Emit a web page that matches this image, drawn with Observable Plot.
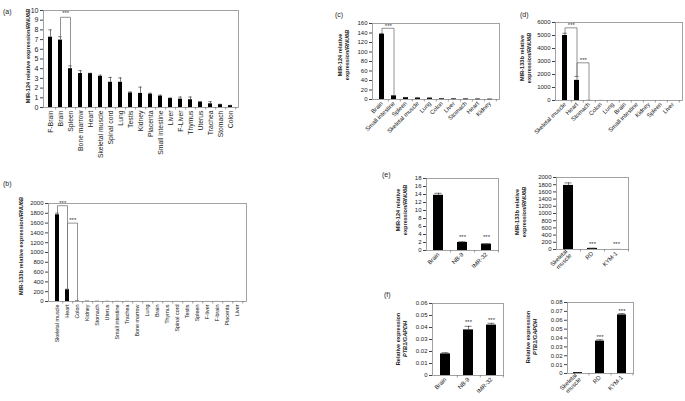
<!DOCTYPE html>
<html><head><meta charset="utf-8">
<script src="https://cdn.jsdelivr.net/npm/d3@7"></script>
<script src="https://cdn.jsdelivr.net/npm/@observablehq/plot@0.6"></script>
<style>
body{margin:0;background:#fff}
#fig{position:relative;width:685px;height:401px;overflow:hidden;font-family:"Liberation Sans",Arial,sans-serif;color:#222;background:#fff}
.pl{position:absolute;font-size:7px;line-height:8px}
.yl{position:absolute;font-weight:bold;white-space:nowrap;text-align:center;font-size:5.6px;line-height:7px;transform:translate(-50%,-50%) rotate(-90deg)}
#fig svg{position:absolute;overflow:visible;background:transparent}
</style></head><body><div id="fig"></div><script>
// ---- data ----
const aCats = ["F-Brain","Brain","Spleen","Bone marrow","Heart","Skeletal muscle","Spinal cord","Lung","Testis","Kidney","Placenta","Small intestine","Liver","F-Liver","Thymus","Uterus","Trachea","Stomach","Colon"];
const aVals = [7.25,6.95,4.0,3.5,3.5,3.2,2.6,2.6,1.5,1.45,1.37,1.17,0.93,0.86,0.8,0.55,0.38,0.3,0.2];
const aErr  = [0.75,0.35,0.3,0.3,0.03,0.13,0.5,0.45,0.1,0.65,0.1,0.1,0.05,0.22,0.28,0.05,0.22,0.03,0.02];
const aTicks = [0,1,2,3,4,5,6,7,8,9,10];
const aBracket = [["Brain",7.35],["Brain",9.3],["Spleen",9.3],["Spleen",4.35]];
const aStars = [["Brain",9.75]];

const bCats = ["Skeletal muscle","Heart","Colon","Kidney","Stomach","Uterus","Small intestine","Trachea","Bone marrow","Lung","Brain","Thymus","Spinal cord","Testis","Spleen","F-liver","F-brain","Placenta","Liver"];
const bVals = [1770,240,8,6,4,3,2,2,1,1,1,1,1,1,1,1,1,1,1];
const bErr  = [35,12,0,0,0,0,0,0,0,0,0,0,0,0,0,0,0,0,0];
const bTicks = [0,200,400,600,800,1000,1200,1400,1600,1800,2000];
const bBracket1 = [["Skeletal muscle",1810],["Skeletal muscle",1955],["Heart",1955],["Heart",255]];
const bBracket2 = [["Heart",260],["Heart",1600],["Colon",1600],["Colon",10]];
const bStars = [["Skeletal muscle",2010],["Heart",1670]];

const cCats = ["Brain","Small intestine","Spleen","Skeletal muscle","Lung","Colon","Liver","Stomach","Heart","Kidney"];
const cVals = [137,7.5,4,3,2.8,1.5,1.2,1,0.8,0.5];
const cErr  = [2,0.8,0.3,0.3,0.3,0.2,0.1,0.1,0.1,0.1];
const cTicks = [0,20,40,60,80,100,120,140,160];
const cBracket = [["Brain",140],["Brain",150],["Small intestine",150],["Small intestine",10]];
const cStars = [["Brain",155]];

const dCats = ["Skeletal muscle","Heart","Stomach","Colon","Lung","Brain","Small intestine","Kidney","Spleen","Liver"];
const dVals = [5000,1550,10,5,3,2,2,1,1,1];
const dErr  = [170,300,0,0,0,0,0,0,0,0];
const dTicks = [0,1000,2000,3000,4000,5000,6000];
const dBracket1 = [["Skeletal muscle",5180],["Skeletal muscle",5590],["Heart",5590],["Heart",1860]];
const dBracket2 = [["Heart",1860],["Heart",2900],["Stomach",2900],["Stomach",10]];
const dStars = [["Skeletal muscle",5800],["Heart",3120]];

const e1Cats = ["Brain","NB-9","IMR-32"];
const e1Vals = [13.8,2.0,1.6];
const e1Err  = [0.5,0.2,0.05];
const e1Ticks = [0,2,4,6,8,10,12,14,16,18];
const e1Stars = [["NB-9",3.3],["IMR-32",3.3]];

const e2Cats = ["Skeletal muscle","RD","KYM-1"];
const e2Vals = [1780,30,2];
const e2Err  = [70,5,0];
const e2Ticks = [0,200,400,600,800,1000,1200,1400,1600,1800,2000];
const e2Stars = [["RD",155],["KYM-1",155]];

const f1Cats = ["Brain","NB-9","IMR-32"];
const f1Vals = [0.018,0.038,0.042];
const f1Err  = [0.001,0.003,0.0015];
const f1Ticks = [0,0.01,0.02,0.03,0.04,0.05,0.06];
const f1Stars = [["NB-9",0.0445],["IMR-32",0.0462]];

const f2Cats = ["Skeletal muscle","RD","KYM-1"];
const f2Vals = [0.001,0.0365,0.066];
const f2Err  = [0,0.0015,0.0015];
const f2Ticks = [0,0.01,0.02,0.03,0.04,0.05,0.06,0.07,0.08];
const f2Stars = [["RD",0.0405],["KYM-1",0.0698]];

// ---- drawing ----
const fig = document.getElementById("fig");
const FONT = "'Liberation Sans', Arial, sans-serif";

function panel(o){
  const data = o.cats.map((c,i)=>({c, v:o.vals[i], e:o.vals[i]+(o.errs?o.errs[i]:0)}));
  const fw = o.fx2-o.fx1, fh = o.fy2-o.fy1;
  const mL=40, mT=14, mR=6, mB=o.mB||70;
  const step = fw/o.cats.length;
  const pad = o.pad||0.58;
  const errs = data.filter(d=>d.e>d.v);
  const marks = [
    Plot.frame({stroke:"#8c8c8c", strokeWidth:0.8}),
    Plot.barY(data,{x:"c", y:"v", fill:"#000"}),
    Plot.ruleX(errs,{x:"c", y1:"v", y2:"e", stroke:"#444", strokeWidth:0.7}),
    Plot.tickY(errs,{x:"c", y:"e", stroke:"#444", strokeWidth:0.7, insetLeft:step*0.36, insetRight:step*0.36}),
    Plot.axisY({ticks:o.ticks, tickSize:3, tickPadding:2, fontSize:o.fs||6, tickFormat:d=>String(d), stroke:"#444"}),
    Plot.axisX({tickSize:2.5, tickFormat:()=>"", dx:step/2, stroke:"#777", strokeWidth:0.7}),
    Plot.axisX({tickRotate:o.rot, tickSize:0, tickPadding:o.tp||3, fontSize:o.xfs||o.fs||6, tickFormat:o.xfmt||(d=>d)}),
  ];
  (o.brackets||[]).forEach(b=>{
    marks.push(Plot.line(b.map(([c,v])=>({c,v})),{x:"c", y:"v", stroke:"#777", strokeWidth:0.8}));
  });
  (o.stars||[]).forEach(([c,v])=>{
    marks.push(Plot.text([{c,v}],{x:"c", y:"v", text:()=>"***", fontSize:6, fill:"#333", dx:o.mid?step/2:0, lineAnchor:"middle"}));
  });
  const svg = Plot.plot({
    width: fw+mL+mR, height: fh+mT+mB,
    marginLeft:mL, marginTop:mT, marginRight:mR, marginBottom:mB,
    x:{domain:o.cats, paddingInner:pad, paddingOuter:pad/2, label:null},
    y:{domain:o.yd, label:null},
    style:{fontFamily:FONT, color:"#222", background:"transparent", overflow:"visible"},
    marks
  });
  svg.style.left = (o.fx1-mL)+"px";
  svg.style.top = (o.fy1-mT)+"px";
  fig.appendChild(svg);
}

function label(txt,x,y,cls){
  const d=document.createElement("div");
  d.className=cls; d.innerHTML=txt;
  d.style.left=x+"px"; d.style.top=y+"px";
  fig.appendChild(d);
}

panel({cats:aCats, vals:aVals, errs:aErr, ticks:aTicks, yd:[0,10], fx1:43, fx2:238, fy1:10, fy2:107, rot:-90, fs:7, xfs:6.8, brackets:[aBracket], stars:aStars, mid:true});
panel({cats:bCats, vals:bVals, errs:bErr, ticks:bTicks, yd:[0,2000], fx1:48, fx2:246, fy1:203, fy2:301, rot:-90, fs:6, xfs:5.4, brackets:[bBracket1,bBracket2], stars:bStars, mid:true});
panel({cats:cCats, vals:cVals, errs:cErr, ticks:cTicks, yd:[0,160], fx1:372, fx2:499, fy1:23, fy2:99, rot:-45, fs:6, brackets:[cBracket], stars:cStars, mid:true});
panel({cats:dCats, vals:dVals, errs:dErr, ticks:dTicks, yd:[0,6000], fx1:555, fx2:682, fy1:22, fy2:100, rot:-45, fs:6, brackets:[dBracket1,dBracket2], stars:dStars, mid:true});
panel({cats:e1Cats, vals:e1Vals, errs:e1Err, ticks:e1Ticks, yd:[0,18], fx1:426, fx2:498, fy1:178, fy2:250, rot:-45, fs:6, stars:e1Stars});
panel({cats:e2Cats, vals:e2Vals, errs:e2Err, ticks:e2Ticks, yd:[0,2000], fx1:556, fx2:628, fy1:177, fy2:249, rot:-45, fs:6, stars:e2Stars, xfmt:d=>d.replace(" ","\n")});
panel({cats:f1Cats, vals:f1Vals, errs:f1Err, ticks:f1Ticks, yd:[0,0.06], fx1:432, fx2:503, fy1:303, fy2:375, rot:-45, fs:6, stars:f1Stars});
panel({cats:f2Cats, vals:f2Vals, errs:f2Err, ticks:f2Ticks, yd:[0,0.08], fx1:567, fx2:633, fy1:302, fy2:373, rot:-45, fs:6, stars:f2Stars, xfmt:d=>d.replace(" ","\n")});

label("(a)",3,8,"pl");
label("(b)",3,180,"pl");
label("(c)",335,11,"pl");
label("(d)",520,11,"pl");
label("(e)",382,171,"pl");
label("(f)",384,291,"pl");

label("MIR-124 relative expression/<i>RNU6B</i>",28,56,"yl");
label("MIR-133b relative expression/<i>RNU6B</i>",21,246,"yl");
label("MIR-124 relative<br>expression/<i>RNU6B</i>",344,55,"yl");
label("MIR-133b relative<br>expression/<i>RNU6B</i>",526,58,"yl");
label("MIR-124 relative<br>expression/<i>RNU6B</i>",402,210,"yl");
label("MIR-133b relative<br>expression/<i>RNU6B</i>",521,212,"yl");
label("Relative expression<br><i>PTB1/GAPDH</i>",402,339,"yl");
label("Relative expression<br><i>PTB1/GAPDH</i>",532,337,"yl");
</script></body></html>
